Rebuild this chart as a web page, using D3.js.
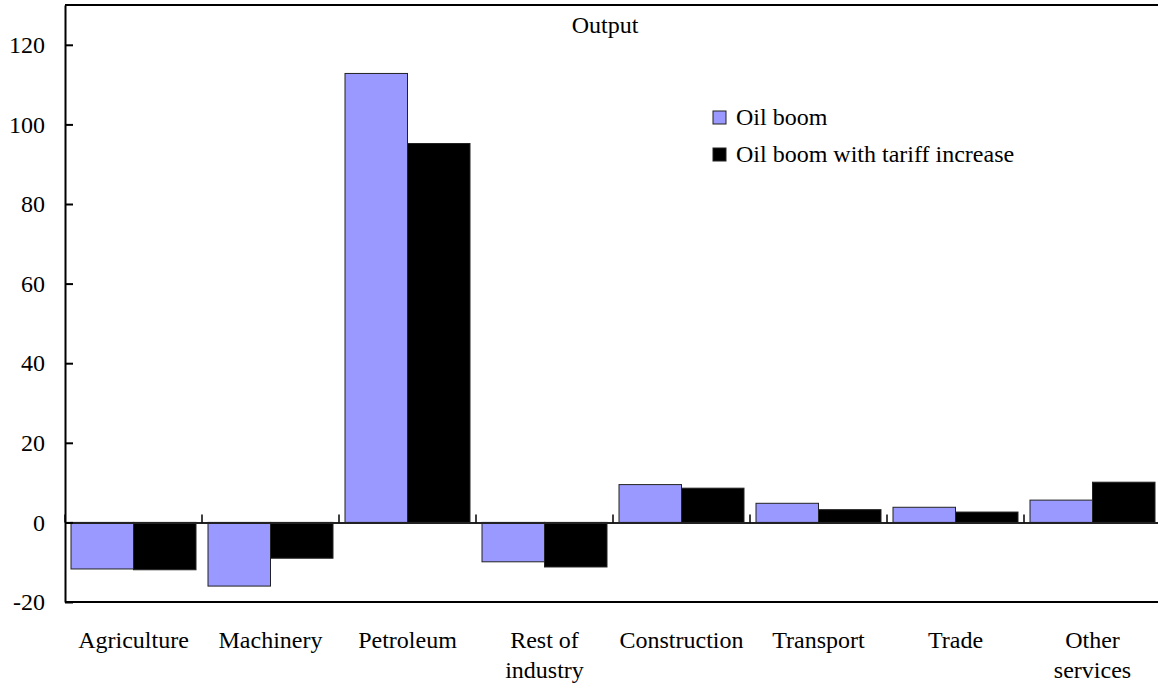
<!DOCTYPE html>
<html>
<head>
<meta charset="utf-8">
<script src="https://cdn.jsdelivr.net/npm/d3@7"></script>
<style>
  html, body { margin: 0; padding: 0; background: #fff; }
  svg { display: block; }
  text { font-family: "Liberation Serif", "Times New Roman", serif; fill: #000; }
</style>
</head>
<body>
<svg id="chart" width="1158" height="686"></svg>
<script>
const categories = ["Agriculture", "Machinery", "Petroleum", "Rest of industry", "Construction", "Transport", "Trade", "Other services"];
const categoryLines = [["Agriculture"], ["Machinery"], ["Petroleum"], ["Rest of", "industry"], ["Construction"], ["Transport"], ["Trade"], ["Other", "services"]];
const seriesNames = ["Oil boom", "Oil boom with tariff increase"];
const oilBoom = [-11.7, -16.0, 112.8, -9.9, 9.5, 4.8, 3.8, 5.6];
const oilBoomTariff = [-11.9, -9.0, 95.2, -11.2, 8.6, 3.2, 2.6, 10.1];
const yTicks = [-20, 0, 20, 40, 60, 80, 100, 120];
const yDomain = [-20, 130];
const chartTitle = "Output";

const colors = ["#9999FF", "#000000"];
const seriesValues = [oilBoom, oilBoomTariff];
const FONT = '"Liberation Serif", "Times New Roman", serif';

const svg = d3.select("#chart");
const pLeft = 65, pRight = 1161, pTop = 5, pBottom = 602;
const fontSize = 24;

const x = d3.scaleBand().domain(categories).range([pLeft, pRight]).paddingInner(0).paddingOuter(0);
const xs = d3.scaleBand().domain(seriesNames).range([6, x.bandwidth() - 6]).padding(0);
const y = d3.scaleLinear().domain(yDomain).range([pBottom, pTop]);

// bars
const data = [];
categories.forEach((c, i) => {
  seriesNames.forEach((s, j) => data.push({ c, s, v: seriesValues[j][i], j }));
});
svg.append("g").selectAll("rect").data(data).join("rect")
  .attr("x", d => x(d.c) + xs(d.s))
  .attr("width", xs.bandwidth())
  .attr("y", d => y(Math.max(0, d.v)))
  .attr("height", d => Math.abs(y(d.v) - y(0)))
  .attr("fill", d => colors[d.j])
  .attr("stroke", "#222")
  .attr("stroke-width", 1);

// frame top and bottom
svg.append("line").attr("x1", pLeft).attr("x2", pRight).attr("y1", pTop).attr("y2", pTop)
  .attr("stroke", "#000").attr("stroke-width", 2);
svg.append("line").attr("x1", pLeft).attr("x2", pRight).attr("y1", pBottom).attr("y2", pBottom)
  .attr("stroke", "#000").attr("stroke-width", 2);

// zero line with category boundary ticks
const xAxis = d3.axisTop(x).tickSize(0).tickFormat("");
const gx = svg.append("g").attr("transform", `translate(0,${y(0)})`).call(xAxis);
gx.select(".domain").attr("stroke", "#222").attr("stroke-width", 2);
const boundaries = categories.map(c => x(c)).concat([pRight]);
gx.selectAll("line.bnd").data(boundaries).join("line").attr("class", "bnd")
  .attr("x1", d => d).attr("x2", d => d).attr("y1", 0).attr("y2", -8)
  .attr("stroke", "#000").attr("stroke-width", 1.5);

// y axis
const yAxis = d3.axisLeft(y).tickValues(yTicks).tickFormat(d => String(d))
  .tickSizeInner(-8).tickSizeOuter(0).tickPadding(20);
const gy = svg.append("g").attr("transform", `translate(${pLeft},0)`).call(yAxis)
  .attr("font-family", FONT).attr("font-size", fontSize);
gy.select(".domain").attr("stroke", "#000").attr("stroke-width", 2);
gy.selectAll(".tick line").attr("stroke", "#000").attr("stroke-width", 2);
gy.selectAll(".tick text").attr("fill", "#000");

// category labels
const lab = svg.append("g").attr("font-family", FONT).selectAll("text").data(categories).join("text")
  .attr("text-anchor", "middle")
  .attr("font-size", fontSize)
  .attr("transform", d => `translate(${x(d) + x.bandwidth() / 2},648)`);
lab.selectAll("tspan").data((d, i) => categoryLines[i]).join("tspan")
  .attr("x", 0).attr("dy", (d, k) => k === 0 ? 0 : 30).text(d => d);

// title
svg.append("text").attr("x", 605).attr("y", 33).attr("text-anchor", "middle")
  .attr("font-family", FONT).attr("font-size", fontSize).text(chartTitle);

// legend
const lg = svg.append("g").attr("font-family", FONT).selectAll("g").data(seriesNames).join("g")
  .attr("transform", (d, i) => `translate(713,${111 + i * 37})`);
lg.append("rect").attr("width", 13).attr("height", 13)
  .attr("fill", (d, i) => colors[i]).attr("stroke", "#222").attr("stroke-width", 1);
lg.append("text").attr("x", 23).attr("y", 14).attr("font-size", fontSize).text(d => d);
</script>
</body>
</html>
